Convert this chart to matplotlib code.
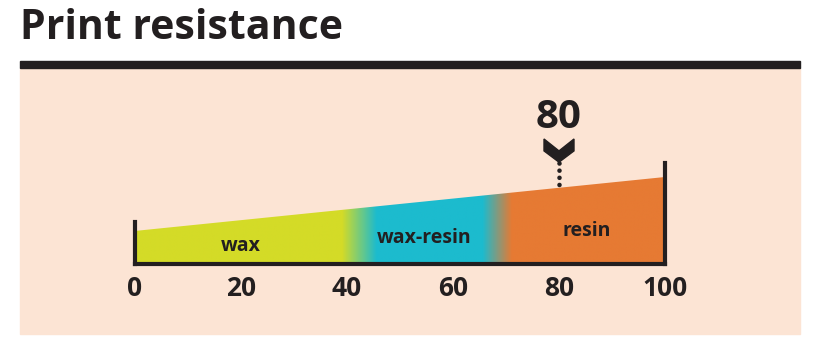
import numpy as np
import matplotlib
matplotlib.use("Agg")
import matplotlib.pyplot as plt
from matplotlib.patches import Rectangle, Polygon
from matplotlib.colors import to_rgb

# scale data
scale_ticks = [0, 20, 40, 60, 80, 100]
wedge_x = [0, 100]
wedge_h = [0.38, 1.0]          # relative height of the wedge at each end
segment_names = ["wax", "wax-resin", "resin"]
segment_mid = [20, 54.5, 85.3]
# colour stops along the scale (value, colour)
stop_vals = [0, 39, 45.5, 65.5, 71, 100]
stop_cols = ["#d4db27", "#d4db27", "#1cbbce", "#1cbbce", "#e67a33", "#e67a33"]
marker_value = 80

ink = "#231f20"
bg = "#fce4d4"
plt.rcParams["font.family"] = ["Open Sans", "DejaVu Sans"]

W, H = 813, 349
fig = plt.figure(figsize=(W / 100, H / 100), dpi=100)

# panel + rule + title
fig.patches.append(Rectangle((20 / W, 1 - 334 / H), 780 / W, 266 / H,
                             transform=fig.transFigure, color=bg, zorder=-2))
fig.patches.append(Rectangle((20 / W, 1 - 68 / H), 780 / W, 7 / H,
                             transform=fig.transFigure, color=ink, zorder=-2))
fig.text(20 / W, 1 - 39 / H, "Print resistance", fontsize=29.5, fontweight="bold",
         color=ink, va="baseline", ha="left")

ax = fig.add_axes([0, 0, 1, 1])
ax.set_facecolor("none")
ax.axis("off")
ax.set_xlim(-135 / 5.3, (W - 135) / 5.3)
ax.set_ylim(-85 / 87, (H - 85) / 87)

# gradient wedge
xs = np.linspace(0, 100, 600)
rgb = np.array([to_rgb(c) for c in stop_cols])
grad = np.stack([np.interp(xs, stop_vals, rgb[:, i]) for i in range(3)], axis=-1)
img = ax.imshow(grad[np.newaxis, :, :], extent=[0, 100, 0, max(wedge_h)],
                aspect="auto", origin="lower", interpolation="bilinear", zorder=1)
wedge = Polygon([(wedge_x[0], 0), (wedge_x[0], wedge_h[0]),
                 (wedge_x[1], wedge_h[1]), (wedge_x[1], 0)],
                closed=True, facecolor="none", edgecolor="none")
ax.add_patch(wedge)
img.set_clip_path(wedge)

# frame
ax.plot(wedge_x, [0, 0], color=ink, lw=3, solid_capstyle="projecting", zorder=3)
ax.plot([wedge_x[0]] * 2, [0, 0.483], color=ink, lw=3, zorder=3)
ax.plot([wedge_x[1]] * 2, [0, 1.16], color=ink, lw=3, zorder=3)

# segment labels
for name, m in zip(segment_names, segment_mid):
    h = np.interp(m, wedge_x, wedge_h)
    ax.text(m, h * 0.42, name, ha="center", va="center", fontsize=14,
            fontweight="bold", color=ink, zorder=4)

# tick labels
for t in scale_ticks:
    ax.text(t, -0.285, str(t), ha="center", va="center", fontsize=19,
            fontweight="bold", color=ink)

# marker
hw = 2.83
chev = Polygon([(marker_value - hw, 1.437), (marker_value, 1.30),
                (marker_value + hw, 1.437), (marker_value + hw, 1.30),
                (marker_value, 1.17), (marker_value - hw, 1.30)],
               closed=True, color=ink, zorder=4)
ax.add_patch(chev)
ax.plot([marker_value] * 2, [1.163, 0.839], color=ink, lw=3.3,
        linestyle=(0, (0.01, 1.55)), dash_capstyle="round", zorder=4)
ax.text(marker_value, 1.68, str(marker_value), ha="center", va="center",
        fontsize=29, fontweight="bold", color=ink)

fig.savefig("out.png", dpi=100)
